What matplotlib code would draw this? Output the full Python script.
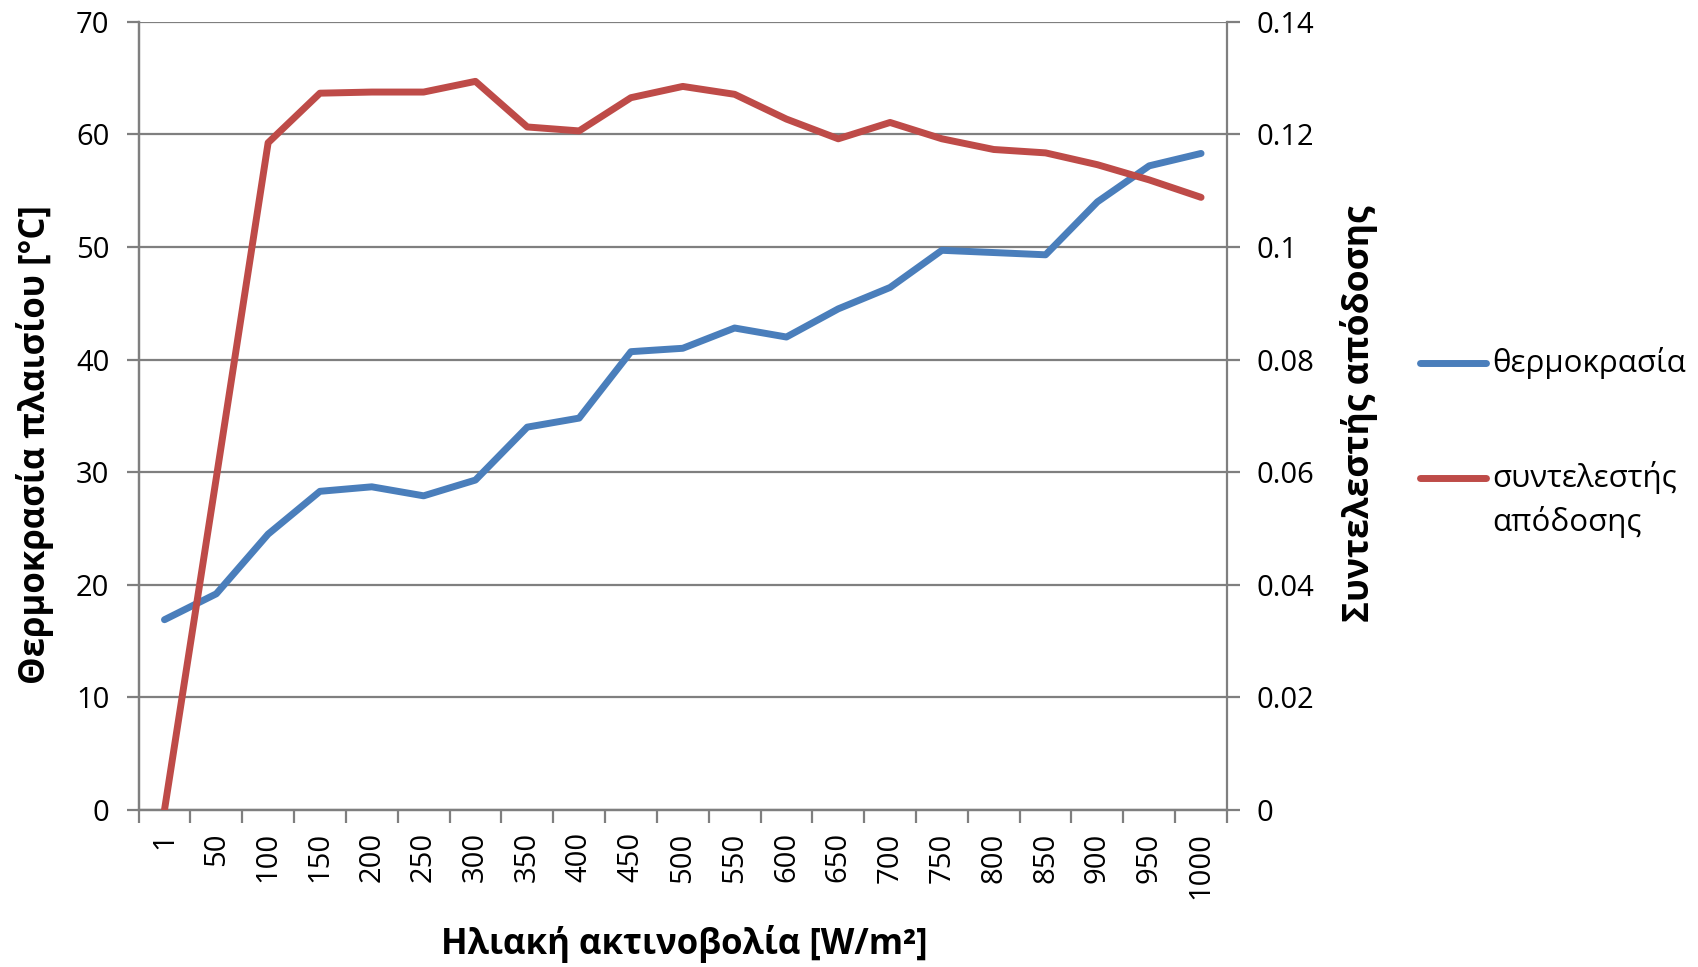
import matplotlib
matplotlib.use("Agg")
import matplotlib.pyplot as plt
from matplotlib.lines import Line2D
import numpy as np

plt.rcParams['font.family'] = ['Open Sans', 'DejaVu Sans']

# irradiance categories [W/m2]
irradiance = ['1', '50', '100', '150', '200', '250', '300', '350', '400', '450', '500',
              '550', '600', '650', '700', '750', '800', '850', '900', '950', '1000']
# panel temperature [°C]
temperature = [16.9, 19.2, 24.5, 28.3, 28.7, 27.9, 29.3, 34.0, 34.8, 40.7, 41.0,
               42.8, 42.0, 44.5, 46.4, 49.7, 49.5, 49.3, 54.0, 57.2, 58.3]
# efficiency coefficient
efficiency = [0.0, 0.059, 0.1185, 0.1273, 0.1275, 0.1275, 0.1294, 0.1213, 0.1206, 0.1265, 0.1285,
              0.1271, 0.1227, 0.1192, 0.1221, 0.1192, 0.1173, 0.1167, 0.1146, 0.1119, 0.1088]

left_ticks = [0, 10, 20, 30, 40, 50, 60, 70]
right_ticks = [0, 0.02, 0.04, 0.06, 0.08, 0.1, 0.12, 0.14]
right_labels = ['0', '0.02', '0.04', '0.06', '0.08', '0.1', '0.12', '0.14']

blue = '#4a7ebb'
red = '#be4b48'
grey = '#7f7f7f'

fig = plt.figure(figsize=(16.98, 9.67), dpi=100)
ax = fig.add_axes([0.0816, 0.1623, 0.6410, 0.8153])
ax2 = ax.twinx()

x = np.arange(len(irradiance))
ax.plot(x, temperature, color=blue, lw=5, solid_capstyle='round', zorder=3)
ax2.plot(x, efficiency, color=red, lw=5, solid_capstyle='round', zorder=3)

ax.set_xlim(-0.5, len(irradiance) - 0.5)
ax.set_ylim(0, 70)
ax2.set_ylim(0, 0.14)

ax.set_yticks(left_ticks)
ax.set_yticklabels([str(v) for v in left_ticks])
ax2.set_yticks(right_ticks)
ax2.set_yticklabels(right_labels)

# category boundaries carry the tick marks, labels sit at the centres
ax.set_xticks(np.arange(-0.5, len(irradiance)), minor=False)
ax.set_xticklabels([])
ax.set_xticks(x, minor=True)
ax.set_xticklabels(irradiance, minor=True, rotation=90, va='top', ha='center')

ax.yaxis.grid(True, color=grey, lw=1.6)
ax.set_axisbelow(True)

for a in (ax, ax2):
    for s in a.spines.values():
        s.set_color(grey)
        s.set_linewidth(1.6)
    a.spines['top'].set_visible(False)
ax.spines['right'].set_visible(False)

ax.tick_params(axis='y', direction='out', length=9, width=1.6, color=grey,
               labelsize=21, labelcolor='#000000', pad=12)
ax.tick_params(axis='x', which='major', direction='out', length=9, width=1.6, color=grey)
ax.tick_params(axis='x', which='minor', length=0, labelsize=21, pad=16)
ax2.tick_params(axis='y', direction='out', length=9, width=1.6, color=grey,
                labelsize=21, labelcolor='#000000', pad=12)

fig.text(35 / 1698, 1 - 445 / 967, 'Θερμοκρασία πλαισίου [°C]', rotation=90,
         ha='center', va='center', fontsize=25, fontweight='bold')
fig.text(1359 / 1698, 1 - 414 / 967, 'Συντελεστής απόδοσης', rotation=90,
         ha='center', va='center', fontsize=25.5, fontweight='bold')
fig.text(684 / 1698, 1 - 944 / 967, 'Ηλιακή ακτινοβολία [W/m²]',
         ha='center', va='center', fontsize=25, fontweight='bold')

# legend drawn beside the plot area
fig.add_artist(Line2D([1420 / 1698, 1486 / 1698], [1 - 363 / 967] * 2,
                      color=blue, lw=5, solid_capstyle='round'))
fig.text(1492 / 1698, 1 - 363 / 967, 'θερμοκρασία', ha='left', va='center', fontsize=22.5)
fig.add_artist(Line2D([1420 / 1698, 1486 / 1698], [1 - 478 / 967] * 2,
                      color=red, lw=5, solid_capstyle='round'))
fig.text(1492 / 1698, 1 - 478 / 967, 'συντελεστής', ha='left', va='center', fontsize=22.5)
fig.text(1492 / 1698, 1 - 522 / 967, 'απόδοσης', ha='left', va='center', fontsize=22.5)

fig.savefig('out.png', dpi=100, facecolor='white')
